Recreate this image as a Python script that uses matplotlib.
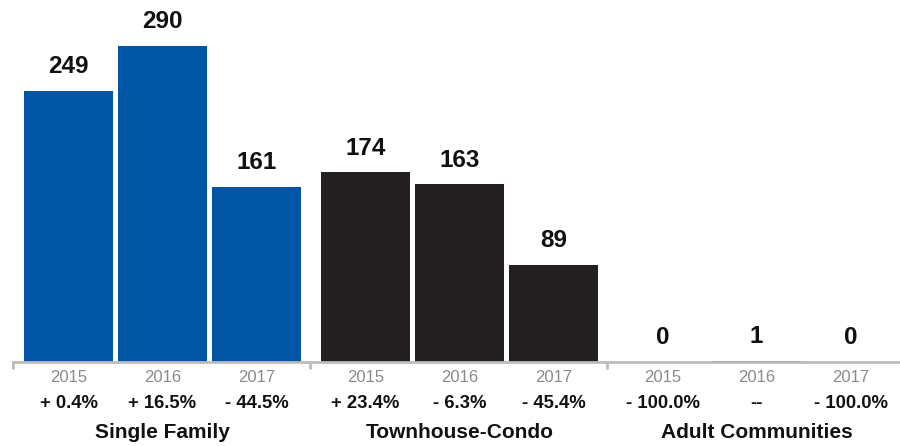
import matplotlib
matplotlib.use("Agg")
import matplotlib.pyplot as plt

plt.rcParams['font.family'] = ['Liberation Sans', 'DejaVu Sans']

groups = ["Single Family", "Townhouse-Condo", "Adult Communities"]
years = ["2015", "2016", "2017"]
values = [
    [249, 290, 161],
    [174, 163, 89],
    [0, 1, 0],
]
changes = [
    ["+ 0.4%", "+ 16.5%", "- 44.5%"],
    ["+ 23.4%", "- 6.3%", "- 45.4%"],
    ["- 100.0%", "--", "- 100.0%"],
]
colors = ["#0055a5", "#231f20", "#231f20"]

W, H = 900, 446
fig = plt.figure(figsize=(W / 100, H / 100), dpi=100)
base_px = 362
ax = fig.add_axes([0, (H - base_px) / H, 1, base_px / H])
ax.set_xlim(0, W)
ax.set_ylim(0, base_px / 1.09)

group_pitch = 297
bar_pitch = 94
bar_w = 89
first_center = 68.5

pt = 0.72  # points per pixel at 100 dpi
for g, name in enumerate(groups):
    centers = [first_center + g * group_pitch + j * bar_pitch for j in range(3)]
    ax.bar(centers, values[g], width=bar_w, color=colors[g], zorder=2)
    for j, c in enumerate(centers):
        ax.annotate(str(values[g][j]), xy=(c, values[g][j]), xytext=(0, 24 * pt),
                    textcoords='offset points', ha='center', va='center',
                    fontsize=17.5, fontweight='bold', color='#111111')
        ax.annotate(years[j], xy=(c, 0), xytext=(0, -15 * pt), textcoords='offset points',
                    ha='center', va='center', fontsize=12, color='#8a8a8a',
                    annotation_clip=False)
        ax.annotate(changes[g][j], xy=(c, 0), xytext=(0, -42 * pt), textcoords='offset points',
                    ha='center', va='center', fontsize=13.3, fontweight='bold', color='#111111',
                    annotation_clip=False)
    ax.annotate(name, xy=(centers[1], 0), xytext=(0, -70 * pt), textcoords='offset points',
                ha='center', va='center', fontsize=15, fontweight='bold', color='#111111',
                annotation_clip=False)

# baseline and group separators
for s in ['top', 'right', 'left']:
    ax.spines[s].set_visible(False)
ax.spines['bottom'].set_color('#bdbdbd')
ax.spines['bottom'].set_linewidth(2)
ax.spines['bottom'].set_bounds(13, W)
ax.spines['bottom'].set_zorder(3)
ax.set_xticks([13 + k * group_pitch for k in range(3)])
ax.set_xticklabels([])
ax.tick_params(axis='x', direction='out', length=7 * pt, width=2, color='#bdbdbd')
ax.set_yticks([])
ax.patch.set_alpha(0)

fig.savefig("out.png", dpi=100)
